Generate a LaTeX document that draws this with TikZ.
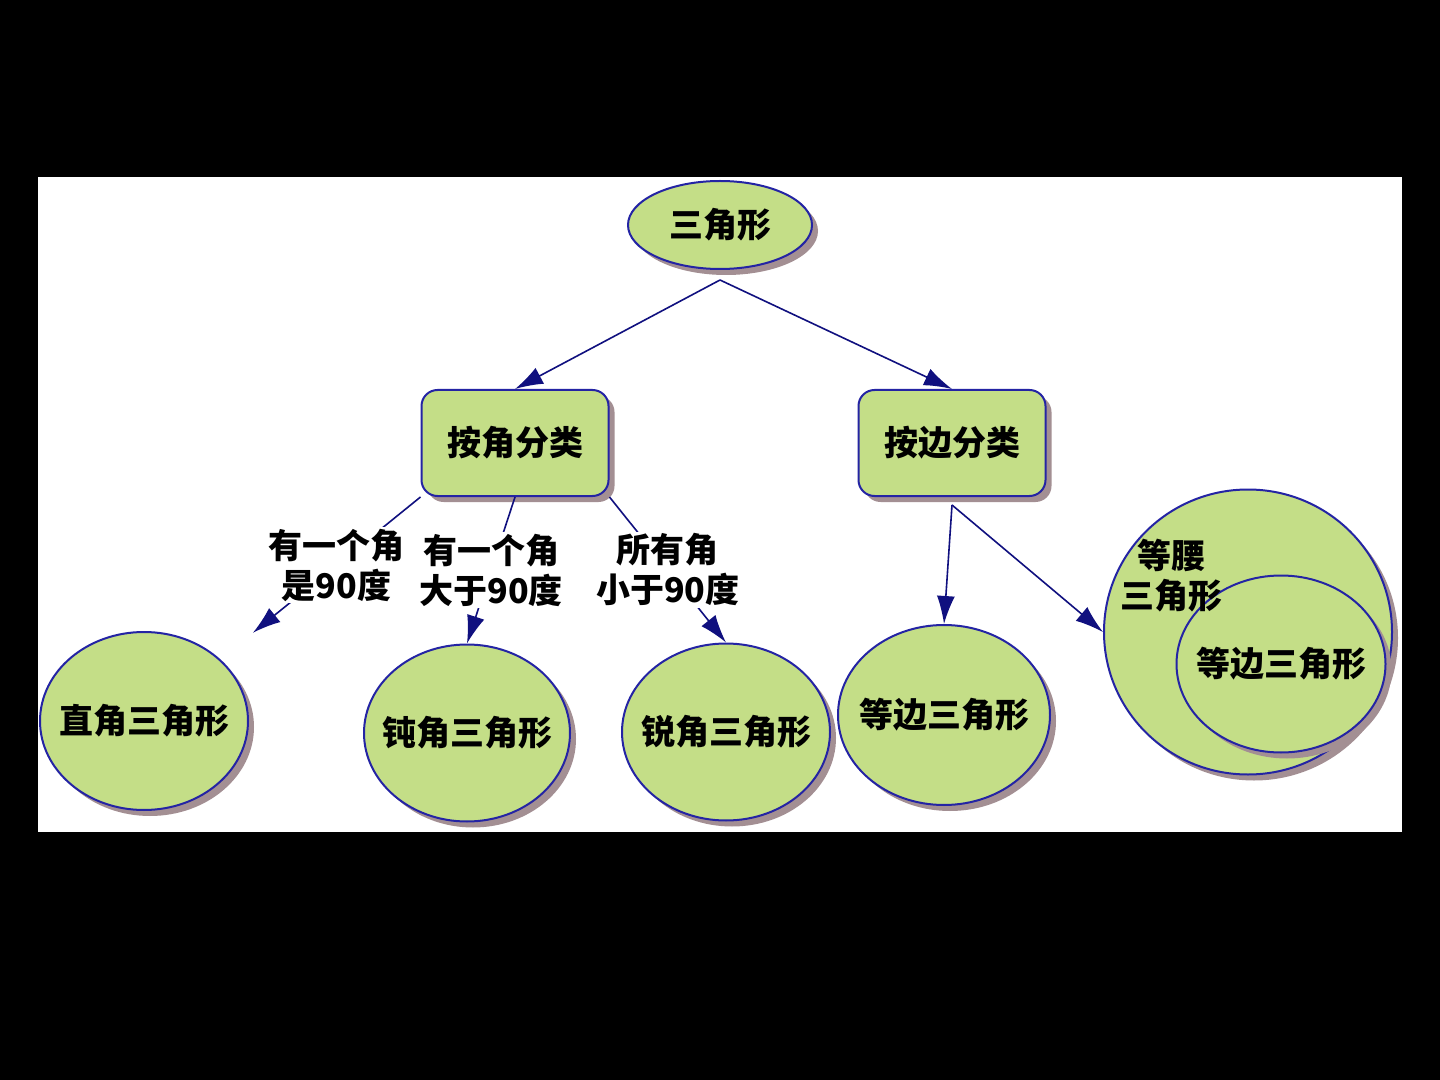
\documentclass[tikz,border=0pt]{standalone}
\usepackage{fontspec}
\setmainfont{Noto Sans CJK SC}
\usetikzlibrary{arrows.meta,shapes.geometric,shadows}
\definecolor{leaf}{HTML}{C4DE87}
\definecolor{rim}{HTML}{2424A4}
\definecolor{shade}{HTML}{A38F93}
\definecolor{wire}{HTML}{10107F}
\newcommand{\ovtext}[1]{\makebox[0pt]{#1}}

\begin{document}
\begin{tikzpicture}[x=0.5pt, y=-0.5pt,
  font=\bfseries\fontsize{17pt}{20pt}\selectfont, >={Latex[length=14pt, width=9pt]},
  base/.style={draw=rim, line width=1pt, fill=leaf, inner sep=0pt, align=center,
    drop shadow={shadow xshift=3pt, shadow yshift=-3pt, fill=shade, opacity=1}},
  oval/.style={base, ellipse},
  cls/.style={base, rectangle, rounded corners=8pt, minimum width=93.5pt, minimum height=53pt},
  flow/.style={->, draw=wire, line width=0.8pt},
  lab/.style={fill=white, inner sep=1pt, align=center}
]
% ---- canvas
\fill[black] (0,0) rectangle (1440,1080);
\fill[white] (38,177) rectangle (1402,832);

% ---- root and classes
\node[oval, minimum width=92pt, minimum height=44pt] (tri) at (720,225) {\ovtext{三角形}};
\node[cls] (jiao) at (515,443) {按角分类};
\node[cls] (bian) at (952,443) {按边分类};

% ---- by angle
\node[oval, minimum width=104pt, minimum height=89pt] (zhi) at (144,721) {\ovtext{直角三角形}};
\node[oval, minimum width=103pt, minimum height=88.5pt] (dun) at (467,733) {\ovtext{钝角三角形}};
\node[oval, minimum width=104pt, minimum height=88.5pt] (rui) at (726,732) {\ovtext{锐角三角形}};

% ---- by side
\node[oval, minimum width=106pt, minimum height=90pt] (dbian) at (944,715) {\ovtext{等边三角形}};
\node[oval, minimum width=144pt, minimum height=142.5pt] (dyao) at (1248,632) {};
\node[oval, minimum width=104.5pt, minimum height=88.5pt] (inner) at (1281,664) {\ovtext{等边三角形}};
\node[align=center] (dyaot) at (1171,576) {等腰\\三角形};

\draw[flow] ([yshift=-5pt]tri.south) -- (jiao.north);
\draw[flow] ([yshift=-5pt]tri.south) -- (bian.north);
\draw[flow, shorten >=21pt] (jiao.south west) -- node[lab, pos=0.42] {有一个角\\是90度} (zhi);
\draw[flow] (jiao.south) -- node[lab] {有一个角\\大于90度} (dun.north);
\draw[flow] (jiao.south east) -- node[lab] {所有角\\小于90度} (rui.north);
\draw[flow] ([yshift=-4pt]bian.south) -- (dbian.north);
\draw[flow] ([yshift=-4pt]bian.south) -- (dyao.west);
\end{tikzpicture}
\end{document}
